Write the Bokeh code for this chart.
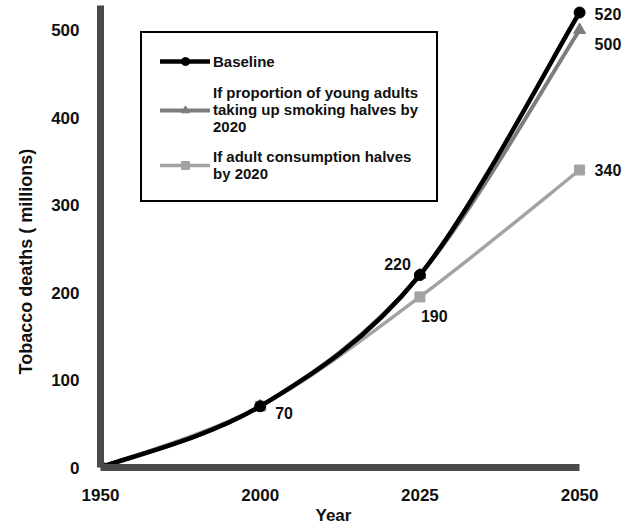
from bokeh.plotting import figure
from bokeh.models import Range1d, FixedTicker, Legend, LegendItem, Title
from bokeh.embed import file_html
from bokeh.resources import INLINE
from bokeh.core.properties import value

# ---- data ----
years = ["1950", "2000", "2025", "2050"]
baseline = [0, 70, 220, 520]
young_halves = [0, 70, 220, 500]
adult_halves = [0, 70, 195, 340]
y_ticks = [0, 100, 200, 300, 400, 500]

series_names = [
    "Baseline",
    "If proportion of young adults\ntaking up smoking halves by\n2020",
    "If adult consumption halves\nby 2020",
]

# value labels: (series, index, text)
value_labels = [
    ("baseline", 1, "70"),
    ("baseline", 2, "220"),
    ("adult", 2, "190"),
    ("baseline", 3, "520"),
    ("young", 3, "500"),
    ("adult", 3, "340"),
]

FONT = "Liberation Sans"
xs = list(range(len(years)))


def smooth_segments(xv, yv):
    """Bezier control points (Catmull-Rom) through the given points."""
    n = len(xv)
    out = dict(x0=[], y0=[], x1=[], y1=[], cx0=[], cy0=[], cx1=[], cy1=[])
    for i in range(n - 1):
        a = max(i - 1, 0)
        d = min(i + 2, n - 1)
        out["x0"].append(xv[i]); out["y0"].append(yv[i])
        out["x1"].append(xv[i + 1]); out["y1"].append(yv[i + 1])
        out["cx0"].append(xv[i] + (xv[i + 1] - xv[a]) / 6)
        out["cy0"].append(yv[i] + (yv[i + 1] - yv[a]) / 6)
        out["cx1"].append(xv[i + 1] - (xv[d] - xv[i]) / 6)
        out["cy1"].append(yv[i + 1] - (yv[d] - yv[i]) / 6)
    return out


p = figure(width=627, height=524,
           x_range=Range1d(0, 3.3), y_range=Range1d(0, 528),
           output_backend="svg", toolbar_location=None,
           min_border_left=99, min_border_right=0,
           min_border_top=5, min_border_bottom=54)
p.outline_line_color = None
p.xgrid.visible = False
p.ygrid.visible = False
p.background_fill_color = "white"
p.border_fill_color = "white"

AX = "#4a4a4a"
TXT = "#111111"
for ax in (p.xaxis[0], p.yaxis[0]):
    ax.axis_line_width = 7
    ax.axis_line_color = AX
    ax.major_tick_line_color = None
    ax.minor_tick_line_color = None
    ax.major_label_text_font = FONT
    ax.major_label_text_font_style = "bold"
    ax.major_label_text_font_size = "17px"
    ax.major_label_text_color = TXT

p.yaxis[0].ticker = FixedTicker(ticks=y_ticks)
p.yaxis[0].major_label_standoff = 15
p.xaxis[0].ticker = FixedTicker(ticks=xs)
p.xaxis[0].major_label_overrides = {i: y for i, y in enumerate(years)}
p.xaxis[0].major_label_standoff = 15
p.xaxis[0].bounds = (0, 3)

styles = {
    "adult": dict(data=adult_halves, color="#a3a3a3", lw=3.5, marker="square", size=10),
    "young": dict(data=young_halves, color="#7d7d7d", lw=4, marker="triangle", size=12),
    "baseline": dict(data=baseline, color="#000000", lw=4.5, marker="circle", size=11),
}

renderers = {}
for key in ["adult", "young", "baseline"]:
    st = styles[key]
    seg = smooth_segments(xs, st["data"])
    rl = p.bezier(line_color=st["color"], line_width=st["lw"], line_cap="round", **seg)
    rm = p.scatter(xs, st["data"], marker=st["marker"], size=st["size"],
                   fill_color=st["color"], line_color=st["color"])
    renderers[key] = [rl, rm]

offsets = {
    "70": ("left", 15, 7),
    "220": ("right", -9, -11),
    "190": ("left", 1, 19),
    "520": ("left", 15, 1),
    "500": ("left", 15, 14),
    "340": ("left", 15, 0),
}
for key, i, txt in value_labels:
    al, dx, dy = offsets[txt]
    p.text(x=[xs[i]], y=[styles[key]["data"][i]], text=[txt],
           x_offset=dx, y_offset=dy, text_align=al, text_baseline="middle",
           text_font=value(FONT), text_font_style="bold", text_font_size="16px",
           text_color=TXT)

legend = Legend(items=[
    LegendItem(label=series_names[0], renderers=renderers["baseline"]),
    LegendItem(label=series_names[1], renderers=renderers["young"]),
    LegendItem(label=series_names[2], renderers=renderers["adult"]),
], location=(40, 265))
legend.label_text_font = FONT
legend.label_text_font_style = "bold"
legend.label_text_font_size = "15px"
legend.label_text_color = TXT
legend.label_text_line_height = 1.05
legend.border_line_color = "black"
legend.border_line_alpha = 1.0
legend.border_line_width = 2
legend.background_fill_color = "white"
legend.background_fill_alpha = 1
legend.glyph_width = 50
legend.label_standoff = 3
legend.padding = 18
legend.spacing = 13
legend.margin = 0
p.add_layout(legend)

p.add_layout(Title(text="Tobacco deaths ( millions)", align="left", offset=93,
                   standoff=26, text_font=FONT, text_font_style="bold",
                   text_font_size="18px", text_color=TXT), "left")
p.add_layout(Title(text="Year", align="left", offset=215, standoff=0,
                   text_font=FONT, text_font_style="bold",
                   text_font_size="17px", text_color=TXT), "below")

open("out.html", "w").write(file_html(p, INLINE))
